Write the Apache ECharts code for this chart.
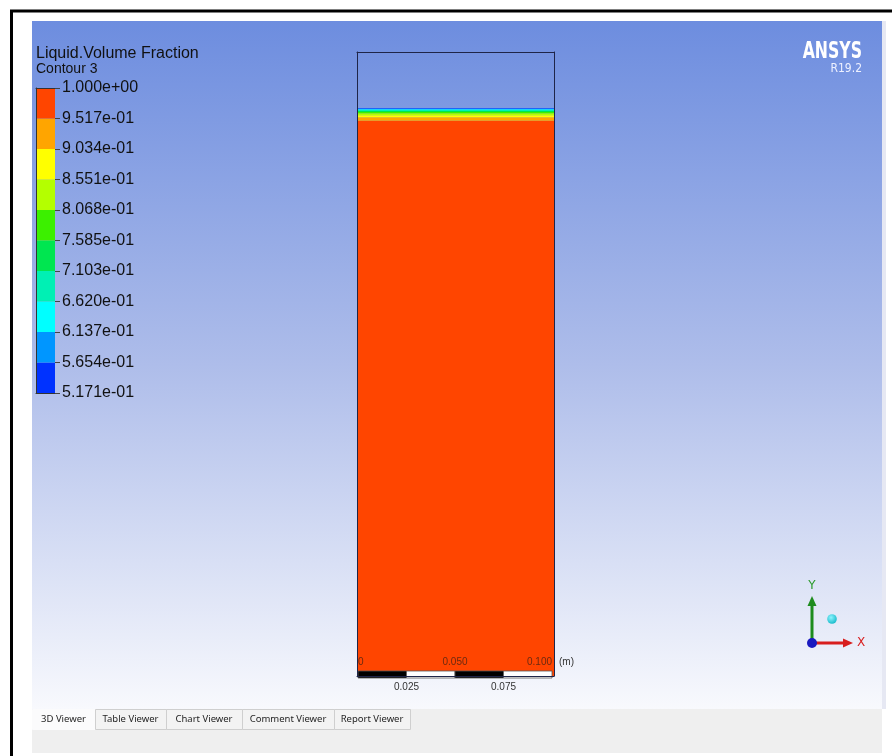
<!DOCTYPE html>
<html>
<head>
<meta charset="utf-8">
<script src="https://cdn.jsdelivr.net/npm/echarts@6/dist/echarts.min.js"></script>
<style>
  html, body { margin: 0; padding: 0; background: #ffffff; }
  #chart { width: 892px; height: 756px; }
</style>
</head>
<body>
<div id="chart"></div>
<script>
// Contour levels of liquid volume fraction, bottom to top
const levelLabels = ['5.171e-01', '5.654e-01', '6.137e-01', '6.620e-01', '7.103e-01', '7.585e-01',
                     '8.068e-01', '8.551e-01', '9.034e-01', '9.517e-01', '1.000e+00'];
const levelValues = [0.5171, 0.5654, 0.6137, 0.6620, 0.7103, 0.7585, 0.8068, 0.8551, 0.9034, 0.9517, 1.0];
const levelColors = ['#0032ff', '#0096ff', '#00ffff', '#00f0b4', '#00e650', '#3cf000',
                     '#b4ff00', '#ffff00', '#ffa500', '#ff4500'];

// Column cross-section: layer boundaries (m) and liquid fraction inside each layer
const layerHeights  = [0, 0.2847, 0.2866, 0.2876, 0.2886, 0.2892, 0.2898, 0.2903, 0.2907, 0.2910, 0.2913, 0.32];
const layerFraction = [0.995, 0.93, 0.88, 0.83, 0.78, 0.735, 0.69, 0.64, 0.59, 0.54, 0.02];
const columnWidth = 0.1;
const columnHeight = 0.32;

// Length scale (m)
const scaleStops = [0, 0.025, 0.05, 0.075, 0.1];

// Viewer tabs
const tabNames = ['3D Viewer', 'Table Viewer', 'Chart Viewer', 'Comment Viewer', 'Report Viewer'];
const tabEdges = [32, 95, 166, 242, 334, 410];

const legendData = [];
for (let i = 0; i < levelColors.length; i++) {
  legendData.push([i, i + 1, (levelValues[i] + levelValues[i + 1]) / 2]);
}
const columnData = [];
for (let i = 0; i < layerFraction.length; i++) {
  columnData.push([layerHeights[i], layerHeights[i + 1], layerFraction[i]]);
}
const scaleData = [];
for (let i = 0; i < scaleStops.length - 1; i++) {
  scaleData.push([scaleStops[i], scaleStops[i + 1], i % 2 === 0 ? 1 : 0]);
}

const pieces = [];
for (let i = 0; i < levelColors.length; i++) {
  const p = { gte: levelValues[i], color: levelColors[i] };
  if (i === levelColors.length - 1) p.lte = levelValues[i + 1]; else p.lt = levelValues[i + 1];
  pieces.push(p);
}

const FONT = '"Liberation Sans", Arial, sans-serif';
const edgeColor = '#1f2548';

function bandRect(x0, x1) {
  return function (params, api) {
    const p0 = api.coord([x0, api.value(1)]);
    const p1 = api.coord([x1, api.value(0)]);
    return {
      type: 'rect',
      shape: { x: p0[0], y: p0[1], width: p1[0] - p0[0], height: p1[1] - p0[1] },
      style: { fill: api.visual('color') }
    };
  };
}

function edgeAxis(gridIndex, min, max, position, color) {
  return { gridIndex: gridIndex, type: 'value', min: min, max: max, position: position, z: 5,
    axisLine: { show: true, onZero: false, lineStyle: { color: color, width: 1 } },
    axisTick: { show: false }, axisLabel: { show: false }, splitLine: { show: false } };
}

// Decorative viewer chrome: frame, gradient viewport, tabs, logo and axis triad
const chrome = [
  { type: 'rect', z: -20, shape: { x: 32, y: 21, width: 850, height: 688 },
    style: { fill: new echarts.graphic.LinearGradient(0, 0, 0, 1, [
      { offset: 0, color: '#6d8ddf' },
      { offset: 0.5, color: '#aebdea' },
      { offset: 1, color: '#f8f9fd' }
    ]) } },
  { type: 'rect', z: -20, shape: { x: 882, y: 21, width: 4, height: 688 }, style: { fill: '#e6e8f3' } },
  { type: 'rect', z: -20, shape: { x: 32, y: 709, width: 850, height: 44 }, style: { fill: '#efefef' } },
  { type: 'rect', z: 50, shape: { x: 11.5, y: 11, width: 890, height: 780 },
    style: { fill: 'none', stroke: '#000', lineWidth: 3 } },
  { type: 'text', z: 50, x: 862, y: 52, scaleX: 0.76,
    style: { text: 'ANSYS', x: 0, y: 0, align: 'right', textAlign: 'right',
      verticalAlign: 'middle', textVerticalAlign: 'middle', fill: '#ffffff',
      font: 'bold 23px "DejaVu Sans Condensed", "DejaVu Sans", sans-serif' } },
  { type: 'text', z: 50, style: { text: 'R19.2', x: 862, y: 69, align: 'right', textAlign: 'right',
      verticalAlign: 'middle', textVerticalAlign: 'middle', fill: '#eef1ff',
      font: '12px "DejaVu Sans Condensed", "DejaVu Sans", sans-serif' } },
  // axis triad
  { type: 'line', z: 50, shape: { x1: 812, y1: 643, x2: 812, y2: 604 }, style: { stroke: '#1e8c1e', lineWidth: 3 } },
  { type: 'polygon', z: 50, shape: { points: [[812, 596], [807.5, 606], [816.5, 606]] }, style: { fill: '#1e8c1e' } },
  { type: 'line', z: 50, shape: { x1: 812, y1: 643, x2: 845, y2: 643 }, style: { stroke: '#d81e1e', lineWidth: 3 } },
  { type: 'polygon', z: 50, shape: { points: [[853, 643], [843, 638.5], [843, 647.5]] }, style: { fill: '#d81e1e' } },
  { type: 'circle', z: 51, shape: { cx: 812, cy: 643, r: 5 }, style: { fill: '#1a1ac0' } },
  { type: 'circle', z: 51, shape: { cx: 832, cy: 619, r: 4.8 },
    style: { fill: new echarts.graphic.RadialGradient(0.4, 0.35, 0.7, [
      { offset: 0, color: '#8ff4ff' }, { offset: 1, color: '#12b8c8' }]) } },
  { type: 'text', z: 51, style: { text: 'Y', x: 812, y: 586, align: 'center', textAlign: 'center',
      verticalAlign: 'middle', textVerticalAlign: 'middle', fill: '#2a9a2a', font: '12px "DejaVu Sans", sans-serif' } },
  { type: 'text', z: 51, style: { text: 'X', x: 861, y: 643, align: 'center', textAlign: 'center',
      verticalAlign: 'middle', textVerticalAlign: 'middle', fill: '#d82020', font: '12px "DejaVu Sans", sans-serif' } },
  // unit of the length scale
  { type: 'text', z: 51, style: { text: '(m)', x: 559, y: 662, align: 'left', textAlign: 'left',
      verticalAlign: 'middle', textVerticalAlign: 'middle', fill: '#333', font: '10px "Liberation Sans", Arial, sans-serif' } }
];
tabNames.forEach(function (name, i) {
  const x0 = tabEdges[i], x1 = tabEdges[i + 1];
  const active = i === 0;
  chrome.push({ type: 'rect', z: -15, shape: { x: x0 + 0.5, y: 709.5, width: x1 - x0, height: 20 },
    style: { fill: active ? '#fbfbfc' : '#f3f3f3', stroke: active ? '#fbfbfc' : '#cfcfcf', lineWidth: 1 } });
  chrome.push({ type: 'text', z: -14, style: { text: name, x: (x0 + x1) / 2, y: 719.5,
    align: 'center', textAlign: 'center', verticalAlign: 'middle', textVerticalAlign: 'middle',
    fill: '#1e1e1e', font: '9.5px "Noto Sans", sans-serif' } });
});

const chart = echarts.init(document.getElementById('chart'), null, { renderer: 'canvas' });
chart.setOption({
  backgroundColor: '#ffffff',
  animation: false,
  title: {
    text: 'Liquid.Volume Fraction',
    subtext: 'Contour 3',
    left: 33, top: 45, itemGap: 0, padding: [0, 3],
    textStyle: { fontSize: 16, fontWeight: 'normal', color: '#111', fontFamily: FONT, lineHeight: 17 },
    subtextStyle: { fontSize: 14, color: '#111', fontFamily: FONT, lineHeight: 15 }
  },
  graphic: { elements: chrome },
  visualMap: {
    type: 'piecewise', show: false, dimension: 2, seriesIndex: [0, 1],
    pieces: pieces, outOfRange: { color: 'rgba(0,0,0,0)' }
  },
  grid: [
    { left: 36, top: 88, width: 19, height: 305 },
    { left: 357, top: 52, width: 197, height: 624 },
    { left: 358, top: 671, width: 194, height: 7 }
  ],
  xAxis: [
    edgeAxis(0, 0, 1, 'bottom', '#333'),
    edgeAxis(0, 0, 1, 'top', '#333'),
    edgeAxis(1, 0, columnWidth, 'bottom', edgeColor),
    edgeAxis(1, 0, columnWidth, 'top', edgeColor),
    { gridIndex: 2, type: 'value', min: 0, max: 0.1, interval: 0.05, position: 'top', z: 6,
      axisLine: { show: false, onZero: false }, axisTick: { show: false }, splitLine: { show: false },
      axisLabel: { show: true, margin: 4, fontSize: 10, color: '#6b2a10', fontFamily: FONT,
        alignMinLabel: 'left', alignMaxLabel: 'right',
        formatter: function (v) { return v === 0 ? '0' : v.toFixed(3); } } },
    { gridIndex: 2, type: 'value', min: 0, max: 0.1, interval: 0.025, position: 'bottom', z: 6,
      axisLine: { show: false, onZero: false }, axisTick: { show: false }, splitLine: { show: false },
      axisLabel: { show: true, margin: 4, fontSize: 10, color: '#333', fontFamily: FONT,
        showMinLabel: false, showMaxLabel: false,
        formatter: function (v) { return Math.round(v / 0.025) % 2 === 1 ? v.toFixed(3) : ''; } } }
  ],
  yAxis: [
    { gridIndex: 0, type: 'value', min: 0, max: 10, interval: 1, position: 'right', z: 5,
      axisLine: { show: false, onZero: false },
      axisTick: { show: true, length: 5, lineStyle: { color: '#444', width: 1 } },
      axisLabel: { show: true, margin: 7, fontSize: 16, color: '#111', fontFamily: FONT,
        padding: [4, 0, 0, 0],
        formatter: function (v) { return levelLabels[Math.round(v)]; } },
      splitLine: { show: false } },
    edgeAxis(0, 0, 10, 'left', '#333'),
    edgeAxis(1, 0, columnHeight, 'left', edgeColor),
    edgeAxis(1, 0, columnHeight, 'right', edgeColor),
    { gridIndex: 2, type: 'value', min: 0, max: 1, show: false }
  ],
  series: [
    { // colour legend bands
      type: 'custom', xAxisIndex: 0, yAxisIndex: 0, data: legendData,
      renderItem: bandRect(0, 1), silent: true, clip: false
    },
    { // liquid fraction layers in the column
      type: 'custom', xAxisIndex: 2, yAxisIndex: 2, data: columnData,
      renderItem: bandRect(0, columnWidth), silent: true, clip: true
    },
    { // length scale bar
      type: 'custom', xAxisIndex: 4, yAxisIndex: 4, data: scaleData, silent: true, z: 4,
      renderItem: function (params, api) {
        const p0 = api.coord([api.value(0), 1]);
        const p1 = api.coord([api.value(1), 0]);
        const dark = api.value(2) === 1;
        return {
          type: 'rect',
          shape: { x: p0[0], y: p0[1], width: p1[0] - p0[0], height: p1[1] - p0[1] },
          style: { fill: dark ? '#000000' : '#ffffff', stroke: '#555', lineWidth: 0.8 }
        };
      }
    }
  ]
});
</script>
</body>
</html>
